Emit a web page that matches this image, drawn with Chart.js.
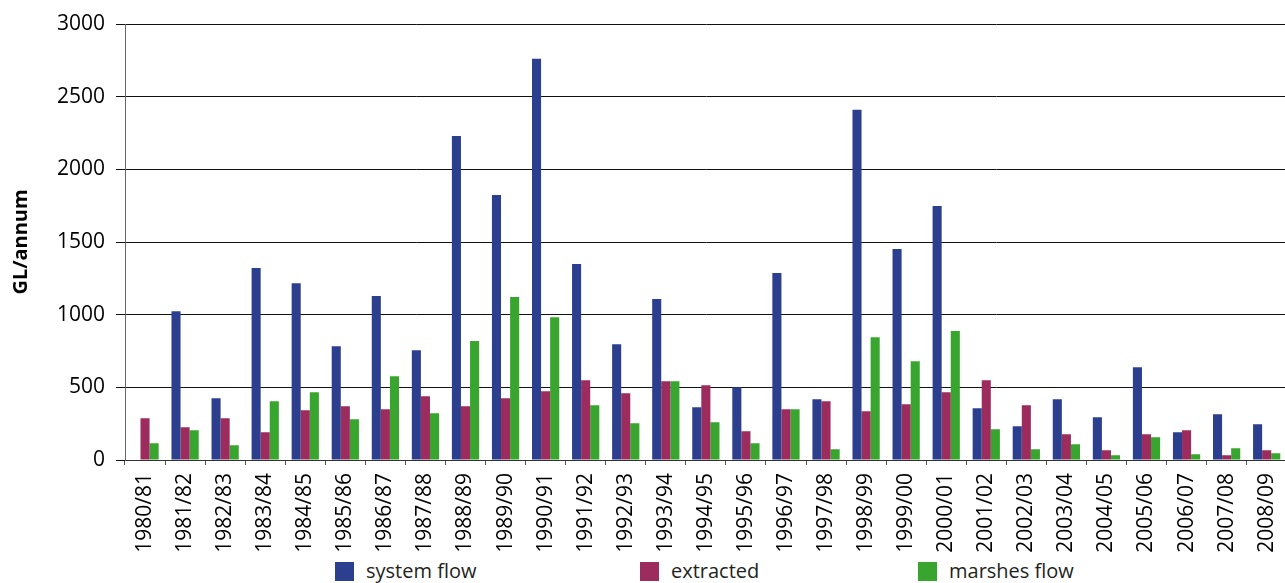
<!DOCTYPE html>
<html>
<head>
<meta charset="utf-8">
<script src="https://cdn.jsdelivr.net/npm/chart.js@4"></script>
<style>
  html, body { margin: 0; padding: 0; background: #fff; overflow: hidden; }
  #wrap { position: relative; width: 1300px; height: 556px; }
  #legend { position: absolute; left: 0; top: 560px; width: 1285px; height: 23px; font-family: 'Open Sans', sans-serif; font-size: 20px; line-height: 22px; color: #231f20; }
  .item { position: absolute; top: 0; display: flex; align-items: center; height: 22px; }
  .box { width: 19px; height: 19px; margin-right: 12px; }
</style>
</head>
<body>
<div id="wrap"><canvas id="chart" width="1300" height="556"></canvas></div>
<div id="legend"></div>
<script>
'use strict';

const years = ['1980/81', '1981/82', '1982/83', '1983/84', '1984/85', '1985/86', '1986/87', '1987/88',
  '1988/89', '1989/90', '1990/91', '1991/92', '1992/93', '1993/94', '1994/95', '1995/96', '1996/97',
  '1997/98', '1998/99', '1999/00', '2000/01', '2001/02', '2002/03', '2003/04', '2004/05', '2005/06',
  '2006/07', '2007/08', '2008/09'];

const systemFlow = [0, 1024, 425, 1321, 1217, 783, 1128, 756, 2230, 1824, 2761, 1348, 797, 1107, 363, 501,
  1286, 418, 2410, 1452, 1748, 356, 232, 418, 294, 639, 191, 315, 246];
const extracted = [287, 225, 287, 191, 342, 370, 349, 439, 370, 425, 473, 549, 459, 542, 515, 198,
  349, 404, 335, 384, 466, 549, 377, 177, 67, 177, 204, 32, 67];
const marshesFlow = [115, 204, 101, 404, 466, 280, 577, 322, 818, 1121, 983, 377, 253, 542, 260, 115,
  349, 74, 845, 680, 887, 211, 74, 108, 32, 156, 39, 80, 46];

const yTicks = [0, 500, 1000, 1500, 2000, 2500, 3000];

const seriesNames = ['system flow', 'extracted', 'marshes flow'];
const seriesColors = ['#2c3f8e', '#9b2c5d', '#38a52f'];

function renderChart() {
  let canvasChart = document.getElementById('chart');
  const seriesData = [systemFlow, extracted, marshesFlow];

  const datasets = seriesNames.map((name, i) => ({
    label: name,
    data: seriesData[i],
    backgroundColor: seriesColors[i],
    borderWidth: 0,
    categoryPercentage: 0.68,
    barPercentage: 1.0
  }));

  new Chart(canvasChart, {
    type: 'bar',
    data: {
      labels: years,
      datasets: datasets
    },
    options: {
      responsive: false,
      animation: false,
      layout: { padding: { top: 24, right: 7, left: 0, bottom: 0 } },
      plugins: {
        legend: { display: false },
        tooltip: { enabled: false }
      },
      scales: {
        x: {
          afterFit: (scale) => { scale.height = 96; },
          grid: {
            display: true,
            drawOnChartArea: false,
            drawTicks: true,
            tickLength: 5,
            color: '#555'
          },
          border: { color: '#333', width: 1 },
          ticks: {
            minRotation: 90,
            maxRotation: 90,
            autoSkip: false,
            padding: 8,
            color: '#000',
            font: { family: "'Open Sans', sans-serif", size: 21 }
          }
        },
        y: {
          min: 0,
          max: 3000,
          afterFit: (scale) => { scale.width = 125; },
          afterBuildTicks: (scale) => { scale.ticks = yTicks.map(v => ({ value: v })); },
          grid: {
            color: '#111',
            lineWidth: 1,
            tickLength: 9
          },
          border: { color: '#666', width: 1 },
          ticks: {
            padding: 11,
            color: '#000',
            font: { family: "'Open Sans', sans-serif", size: 21 },
            callback: (value) => String(value)
          },
          title: {
            display: true,
            text: 'GL/annum',
            color: '#000',
            padding: { top: 9, bottom: 0 },
            font: { family: "'Open Sans', sans-serif", size: 20, weight: 'bold' }
          }
        }
      }
    }
  });

  // legend below the canvas, spaced like the original
  const legendEl = document.getElementById('legend');
  const legendX = [335, 640, 918];
  seriesNames.forEach((name, i) => {
    const item = document.createElement('div');
    item.className = 'item';
    item.style.left = legendX[i] + 'px';
    const box = document.createElement('div');
    box.className = 'box';
    box.style.background = seriesColors[i];
    const txt = document.createElement('span');
    txt.textContent = name;
    item.appendChild(box);
    item.appendChild(txt);
    legendEl.appendChild(item);
  });
}

renderChart();
</script>
</body>
</html>
